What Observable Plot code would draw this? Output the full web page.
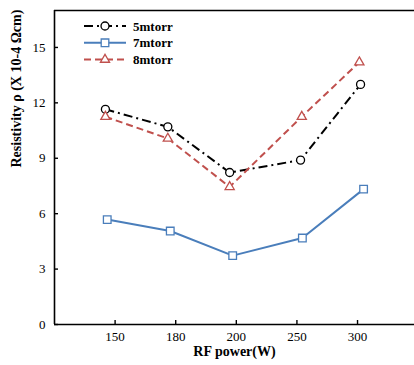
<!DOCTYPE html>
<html><head><meta charset="utf-8">
<script src="https://cdn.jsdelivr.net/npm/d3@7"></script>
<script src="https://cdn.jsdelivr.net/npm/@observablehq/plot@0.6"></script>
<style>body{margin:0;background:#fff}</style>
</head><body><div id="chart"></div>
<script>
// ---- data ----
const powers = ["150", "180", "200", "250", "300"];         // x tick labels (RF power, W)
const tickIndex = [0, 1, 2, 3, 4];
const yTicks = [0, 3, 6, 9, 12, 15];
const seriesNames = ["5mtorr", "7mtorr", "8mtorr"];
// x positions of points (in category-index units)
const x5 = [-0.16, 0.87, 1.89, 3.06, 4.05];
const x7 = [-0.13, 0.91, 1.94, 3.09, 4.10];
const x8 = [-0.16, 0.87, 1.89, 3.08, 4.03];
// resistivity values (x10^-4 Ωcm)
const r5 = [11.65, 10.7, 8.23, 8.9, 13.0];
const r7 = [5.68, 5.06, 3.73, 4.68, 7.33];
const r8 = [11.25, 10.07, 7.45, 11.25, 14.2];
const xTitle = "RF power(W)";
const yTitle = "Resistivity ρ (X 10-4 Ωcm)";

// ---- styles ----
const styles = {
  "5mtorr": {color: "#000000", dash: "9,4,2,4", symbol: "circle", r: 4, area: 50},
  "7mtorr": {color: "#4a7ebb", dash: null, symbol: "square", r: 4.3, area: 58},
  "8mtorr": {color: "#c0504d", dash: "7,4", symbol: "triangle", r: 3.4, area: 36}
};

const xs = [x5, x7, x8], ys = [r5, r7, r8];
const series = seriesNames.map((name, k) => ({
  name,
  rows: ys[k].map((v, i) => ({x: xs[k][i], y: v, name}))
}));

const lineMarks = [], dotMarks = [];
for (const s of series) {
  const st = styles[s.name];
  lineMarks.push(Plot.line(s.rows, {x: "x", y: "y", stroke: st.color, strokeWidth: 2,
    strokeDasharray: st.dash, strokeLinecap: "butt"}));
  dotMarks.push(Plot.dot(s.rows, {x: "x", y: "y", symbol: st.symbol, r: st.r,
    stroke: st.color, strokeWidth: 1.3, fill: "white"}));
}

const plot = Plot.plot({
  width: 414, height: 365,
  marginLeft: 54, marginRight: 0, marginTop: 10, marginBottom: 41,
  style: {fontFamily: "'Liberation Serif', 'Times New Roman', serif", fontSize: "13px", color: "#000", background: "#fff"},
  x: {type: "linear", domain: [-1, 4.94]},
  y: {domain: [0, 17]},
  marks: [
    Plot.axisX(tickIndex, {tickSize: -4, tickPadding: 11, tickFormat: i => powers[i], label: null, strokeWidth: 1.4, fontSize: 13}),
    Plot.axisY(yTicks, {tickSize: -4, tickPadding: 13, label: null, strokeWidth: 1.4, fontSize: 13}),
    Plot.ruleY([0], {strokeWidth: 1.6}),
    Plot.ruleY([17], {strokeWidth: 1.6}),
    Plot.ruleX([-1], {strokeWidth: 1.6}),
    ...lineMarks,
    ...dotMarks,
    Plot.text([xTitle], {text: d => d, frameAnchor: "bottom", dy: 31, fontWeight: "bold", fontSize: 14}),
    Plot.text([yTitle], {text: d => d, frameAnchor: "left", dx: -38, rotate: -90, fontWeight: "bold", fontSize: 14})
  ]
});
document.getElementById("chart").appendChild(plot);

// ---- legend inside the plot area ----
const svg = d3.select(plot.tagName.toLowerCase() === "svg" ? plot : plot.querySelector("svg"));
const lg = svg.append("g").attr("transform", "translate(84,26)");
const symMap = {circle: d3.symbolCircle, square: d3.symbolSquare, triangle: d3.symbolTriangle};
seriesNames.forEach((name, i) => {
  const st = styles[name];
  const g = lg.append("g").attr("transform", `translate(0,${i * 16.8})`);
  g.append("line").attr("x1", 0).attr("x2", 42).attr("y1", 0).attr("y2", 0)
    .attr("stroke", st.color).attr("stroke-width", 2)
    .attr("stroke-dasharray", st.dash || null);
  g.append("path").attr("d", d3.symbol(symMap[st.symbol], st.area)())
    .attr("transform", "translate(21,0)")
    .attr("fill", "white").attr("stroke", st.color).attr("stroke-width", 1.3);
  g.append("text").attr("x", 49).attr("y", 0).attr("dy", "0.35em")
    .attr("text-anchor", "start")
    .attr("font-family", "'Liberation Serif', 'Times New Roman', serif")
    .attr("font-weight", "bold").attr("font-size", 13).attr("fill", "#000").text(name);
});
</script>
</body></html>
